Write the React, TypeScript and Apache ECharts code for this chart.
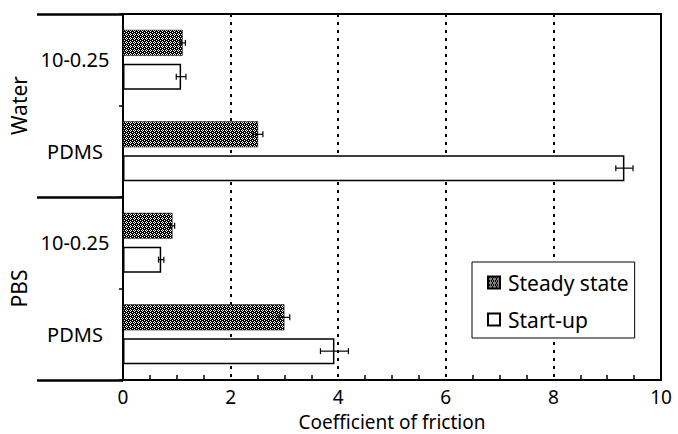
import React, { useEffect, useRef } from "react";
import * as echarts from "echarts";

const categories = ["10-0.25", "PDMS", "10-0.25", "PDMS"];
const groups = ["Water", "PBS"];
const steadyState = [1.11, 2.51, 0.92, 3.0];
const steadyErr = [0.05, 0.09, 0.04, 0.1];
const startUp = [1.08, 9.32, 0.71, 3.93];
const startUpErr = [0.09, 0.16, 0.05, 0.26];
const xTicks = [0, 2, 4, 6, 8, 10];

const FONT = "Noto Sans";

function makePattern(): HTMLCanvasElement {
  const c = document.createElement("canvas");
  c.width = 4;
  c.height = 4;
  const ctx = c.getContext("2d")!;
  ctx.fillStyle = "#000";
  ctx.fillRect(0, 0, 4, 4);
  ctx.fillStyle = "#fff";
  const pts = [
    [2, 1],
    [1, 2],
    [3, 2],
    [2, 3],
    [0, 0],
  ];
  pts.forEach(([x, y]) => ctx.fillRect(x, y, 1, 1));
  return c;
}

export default function App() {
  const ref = useRef<HTMLDivElement>(null);
  useEffect(() => {
    if (!ref.current) return;
    const chart = echarts.init(ref.current, undefined, { renderer: "svg" });
    const pattern = { image: makePattern(), repeat: "repeat" };
    const barW = 0.284;
    const gapR = 0.3;
    const offsetFrac = (barW * (1 + gapR)) / 2;

    const errSeries = (vals: number[], errs: number[], sign: number) => ({
      type: "custom",
      z: 10,
      silent: true,
      encode: { x: 0, y: 1 },
      data: vals.map((v, i) => [v, i, errs[i]]),
      renderItem: (params: any, api: any) => {
        const v = api.value(0);
        const cat = api.value(1);
        const e = api.value(2);
        const band = api.size([0, 1])[1];
        const y = api.coord([v, cat])[1] + sign * band * offsetFrac;
        const x1 = api.coord([v - e, cat])[0];
        const x2 = api.coord([v + e, cat])[0];
        const cap = 3;
        const style = { stroke: "#000", lineWidth: 1.2 };
        return {
          type: "group",
          children: [
            { type: "line", shape: { x1, y1: y, x2, y2: y }, style },
            { type: "line", shape: { x1, y1: y - cap, x2: x1, y2: y + cap }, style },
            { type: "line", shape: { x1: x2, y1: y - cap, x2, y2: y + cap }, style },
          ],
        };
      },
    });

    const option: any = {
      animation: false,
      backgroundColor: "#fff",
      textStyle: { fontFamily: FONT, color: "#000" },
      grid: {
        left: 123,
        right: 17,
        top: 14,
        bottom: 54,
        show: true,
        borderColor: "#000",
        borderWidth: 2,
        backgroundColor: "transparent",
        containLabel: false,
        outerBoundsMode: "none",
      },
      legend: {
        orient: "vertical",
        left: 472,
        top: 262,
        padding: [10, 6, 8, 15],
        backgroundColor: "#fff",
        borderColor: "#000",
        borderWidth: 1,
        itemGap: 16,
        itemWidth: 12,
        itemHeight: 12,
        icon: "rect",
        textStyle: { fontFamily: FONT, fontSize: 21, color: "#000", padding: [0, 0, 0, 3] },
        data: ["Steady state", "Start-up"],
      },
      xAxis: {
        type: "value",
        min: 0,
        max: 10,
        interval: 2,
        name: "Coefficient of friction",
        nameLocation: "middle",
        nameGap: 32,
        nameTextStyle: { fontFamily: FONT, fontSize: 19, color: "#000" },
        axisLine: { lineStyle: { color: "#000", width: 2 } },
        axisTick: { inside: true, length: 5, lineStyle: { color: "#000", width: 1.5 } },
        minorTick: { show: true, splitNumber: 4, length: 5, lineStyle: { color: "#000", width: 1.5 } },
        axisLabel: {
          fontFamily: FONT,
          fontSize: 19,
          color: "#000",
          margin: 7,
          formatter: (v: number) => (xTicks.includes(v) ? String(v) : ""),
        },
        splitLine: { show: true, lineStyle: { color: "#000", width: 2, type: [3, 5] } },
      },
      yAxis: [
        {
          type: "category",
          data: categories,
          inverse: true,
          axisLine: { show: true, lineStyle: { color: "#000", width: 2 } },
          axisTick: { show: true, length: 4, lineStyle: { color: "#000", width: 1.5 } },
          axisLabel: {
            fontFamily: FONT,
            fontSize: 20,
            color: "#000",
            align: "center",
            margin: 48,
          },
          splitLine: { show: false },
        },
        {
          type: "category",
          data: groups,
          inverse: true,
          position: "left",
          offset: 0,
          axisLine: { show: true, lineStyle: { color: "#000", width: 2 } },
          axisTick: { show: true, interval: 0, length: 86, lineStyle: { color: "#000", width: 2.5 } },
          axisLabel: {
            fontFamily: FONT,
            fontSize: 21,
            color: "#000",
            rotate: 90,
            margin: 94,
          },
          splitLine: { show: false },
        },
      ],
      series: [
        {
          name: "Steady state",
          type: "bar",
          data: steadyState,
          barWidth: "28.4%",
          barGap: "30%",
          itemStyle: { color: pattern, borderColor: "#000", borderWidth: 0.5 },
        },
        {
          name: "Start-up",
          type: "bar",
          data: startUp,
          barWidth: "28.4%",
          barGap: "30%",
          itemStyle: { color: "#fff", borderColor: "#000", borderWidth: 1.5 },
        },
        errSeries(steadyState, steadyErr, -1),
        errSeries(startUp, startUpErr, 1),
      ],
    };
    chart.setOption(option);
    return () => chart.dispose();
  }, []);
  return (
    <div
      ref={ref}
      style={{ position: "fixed", left: 0, top: 0, width: 678, height: 434 }}
    />
  );
}
